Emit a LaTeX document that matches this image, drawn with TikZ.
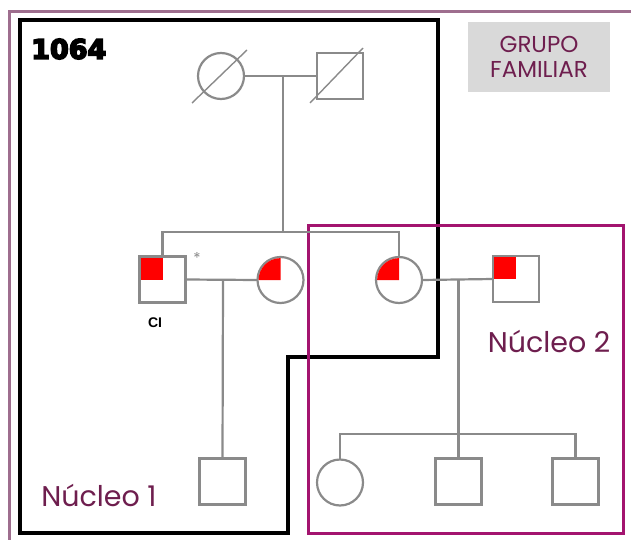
\documentclass[tikz,border=0pt]{standalone}
\usepackage{fontspec}
\setmainfont{Poppins}
\newfontfamily\numfont{DejaVu Sans}[BoldFeatures={FakeBold=6}]
\newfontfamily\cifont{Liberation Sans}
\usetikzlibrary{calc}
\definecolor{pgray}{HTML}{8A8A8A}
\definecolor{outermauve}{HTML}{9E6E8E}
\definecolor{magframe}{HTML}{A3146F}
\definecolor{txtpurple}{HTML}{6E1E4E}
\definecolor{boxgray}{HTML}{D9D9D9}
\definecolor{affred}{HTML}{FF0000}
\tikzset{
  pline/.style={draw=pgray, line width=2.2pt},
  femalenode/.style={circle, draw=pgray, line width=2.2pt, minimum size=46pt, inner sep=0pt, outer sep=0pt},
  malenode/.style={rectangle, draw=pgray, line width=2.2pt, minimum size=46pt, inner sep=0pt, outer sep=0pt},
  slashline/.style={draw=pgray, line width=1.4pt},
  nucleolabel/.style={text=txtpurple, font=\fontsize{28.5}{31}\selectfont},
}
\begin{document}
\begin{tikzpicture}[x=1pt,y=-1pt]
\useasboundingbox (0,0) rectangle (631,540);
% frames
\draw[outermauve, line width=3pt] (9,541) -- (9,12) -- (632,12);
\draw[black, line width=3.5pt] (20,20) -- (438,20) -- (438,357) -- (288,357) -- (288,533) -- (20,533) -- cycle;
\draw[magframe, line width=3pt] (308,225) rectangle (623,533);

% generation 1
\node[femalenode] (f1) at (221,76) {};
\node[malenode] (m1) at (340,76) {};
\draw[slashline] (192,103) -- (247,50);
\draw[slashline] (310,103) -- (363,48);
\coordinate (j1) at (283,76);
\draw[pline] (f1.east) -- (m1.west);

% generation 2
\node[malenode] (ci) at (162.5,279.5) {};
\node[femalenode] (w1) at (280.5,280) {};
\node[femalenode] (d2) at (399,280) {};
\node[malenode] (h2) at (516,279) {};
\fill[affred] ($(ci.north west)+(1.1,1.1)$) rectangle (ci.center);
\fill[affred] ($(h2.north west)+(1.1,1.1)$) rectangle (h2.center);
\fill[affred] (w1.center) -- ++(-21.9,0) arc[start angle=180,end angle=270,radius=21.9] -- cycle;
\fill[affred] (d2.center) -- ++(-21.9,0) arc[start angle=180,end angle=270,radius=21.9] -- cycle;
\coordinate (sib1) at (283,232);
\draw[pline] (j1) -- (sib1);
\draw[pline] (ci.north) -- (ci.north |- sib1) -- (d2.north |- sib1) -- (d2.north);
\draw[pline] (ci.east) -- (w1.west);
\draw[pline] (d2.east) -- (h2.west);
\coordinate (j2) at (223,280);
\coordinate (j3) at (458.5,280);
\node[text=pgray, font=\fontsize{15}{15}\selectfont, inner sep=0pt] (ast) at (197,258) {*};
\node[font=\cifont\bfseries\fontsize{14}{14}\selectfont, inner sep=0pt] (cilabel) at (155,323) {CI};

% generation 3
\node[malenode] (s1) at (222.5,481.5) {};
\node[femalenode] (c1) at (340,482.5) {};
\node[malenode] (s2) at (458.5,481.5) {};
\node[malenode] (s3) at (575.5,481.5) {};
\draw[pline] (j2) -- (s1.north);
\coordinate (sib2) at (458.5,434);
\draw[pline] (j3) -- (s2.north);
\draw[pline] (c1.north) -- (c1.north |- sib2) -- (s3.north |- sib2) -- (s3.north);

% labels
\node[font=\numfont\bfseries\fontsize{27}{27}\selectfont, anchor=west, inner sep=0pt] (famid) at (31,49) {1064};
\node[fill=boxgray, minimum width=142pt, minimum height=70pt, inner sep=0pt] (gfbox) at (539,57) {};
\node[text=txtpurple, align=center, font=\fontsize{23}{25}\selectfont, inner sep=0pt] (gftext) at (gfbox.center) {GRUPO\\FAMILIAR};
\node[nucleolabel, inner sep=0pt] (n1) at (99,495) {Núcleo 1};
\node[nucleolabel, inner sep=0pt] (n2) at (549,341) {Núcleo 2};
\end{tikzpicture}
\end{document}
